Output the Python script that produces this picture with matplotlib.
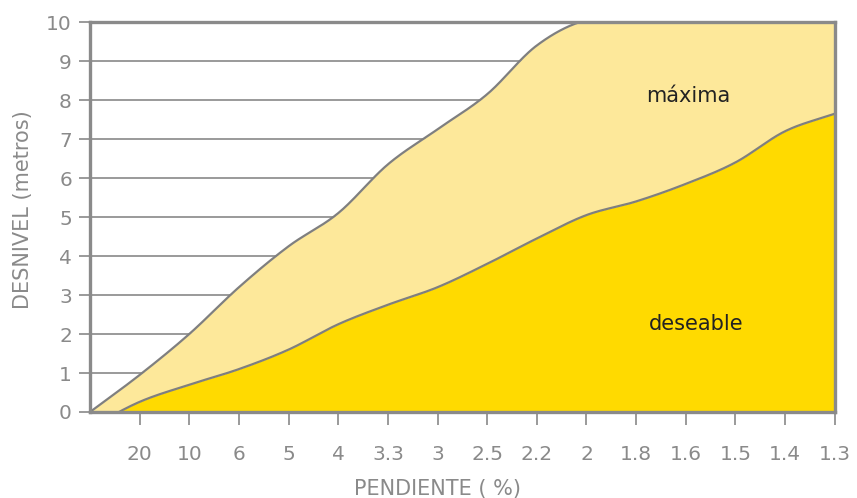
import numpy as np
import matplotlib
matplotlib.use("Agg")
import matplotlib.pyplot as plt

# ---- data ----
pendiente_labels = ["20", "10", "6", "5", "4", "3.3", "3", "2.5", "2.2", "2",
                    "1.8", "1.6", "1.5", "1.4", "1.3"]
# values at positions -1 (origin) .. 14
maxima = [0.0, 0.95, 2.0, 3.2, 4.25, 5.1, 6.35, 7.25, 8.15, 9.4, 10.05,
          10.05, 10.05, 10.05, 10.05, 10.05]
deseable = [-0.4, 0.26, 0.7, 1.1, 1.6, 2.25, 2.75, 3.2, 3.8, 4.45, 5.05,
            5.4, 5.85, 6.4, 7.2, 7.65]
y_ticks = [0, 1, 2, 3, 4, 5, 6, 7, 8, 9, 10]


def smooth(xs, ys, n=30):
    xs = np.asarray(xs, float)
    ys = np.asarray(ys, float)
    m = np.zeros_like(ys)
    m[1:-1] = (ys[2:] - ys[:-2]) / (xs[2:] - xs[:-2])
    m[0] = (ys[1] - ys[0]) / (xs[1] - xs[0])
    m[-1] = (ys[-1] - ys[-2]) / (xs[-1] - xs[-2])
    ox, oy = [], []
    for i in range(len(xs) - 1):
        h = xs[i + 1] - xs[i]
        t = np.linspace(0, 1, n, endpoint=False)
        h00 = 2 * t**3 - 3 * t**2 + 1
        h10 = t**3 - 2 * t**2 + t
        h01 = -2 * t**3 + 3 * t**2
        h11 = t**3 - t**2
        ox.append(xs[i] + t * h)
        oy.append(h00 * ys[i] + h10 * h * m[i] + h01 * ys[i + 1] + h11 * h * m[i + 1])
    ox.append([xs[-1]])
    oy.append([ys[-1]])
    return np.concatenate(ox), np.concatenate(oy)


plt.rcParams['font.family'] = ['DejaVu Sans']

fig = plt.figure(figsize=(8.57, 4.98), dpi=100)
ax = fig.add_axes([0.105, 0.1727, 0.869, 0.783])

pos = np.arange(-1, len(pendiente_labels))
sx, s_max = smooth(pos, maxima)
_, s_des = smooth(pos, deseable)

light = "#FDE89A"
dark = "#FFDA00"
linec = "#7f7f7f"

ax.fill_between(sx, s_des, s_max, color=light, lw=0, zorder=2)
ax.fill_between(sx, -1, s_des, color=dark, lw=0, zorder=2)
ax.plot(sx, s_max, color=linec, lw=1.6, zorder=3)
ax.plot(sx, s_des, color=linec, lw=1.6, zorder=3)

ax.set_xlim(-1, len(pendiente_labels) - 1)
ax.set_ylim(0, 10)

ax.set_yticks(y_ticks)
ax.set_yticklabels([str(v) for v in y_ticks])
ax.set_xticks(np.arange(len(pendiente_labels)))
ax.set_xticklabels(pendiente_labels)

ax.grid(axis='y', color="#9a9a9a", lw=1.4, zorder=1)
ax.set_axisbelow(True)

for s in ax.spines.values():
    s.set_color("#8a8a8a")
    s.set_linewidth(2.4)
    s.set_zorder(4)

fs = 14.5
ax.tick_params(axis='y', length=8, width=1.4, color="#9a9a9a", pad=5,
               labelsize=fs, labelcolor="#8a8a8a")
ax.tick_params(axis='x', length=9, width=1.4, color="#9a9a9a", pad=15,
               labelsize=fs, labelcolor="#8a8a8a")

ax.set_xlabel("PENDIENTE ( %)", fontsize=15, color="#8a8a8a")
ax.xaxis.set_label_coords(0.467, -0.172)
ax.set_ylabel("DESNIVEL (metros)", fontsize=15, color="#8a8a8a")
ax.yaxis.set_label_coords(-0.077, 0.52)

ax.text(11.05, 8.1, "máxima", fontsize=15, color="#222222", ha='center', va='center', zorder=5)
ax.text(11.2, 2.25, "deseable", fontsize=15, color="#222222", ha='center', va='center', zorder=5)

fig.savefig("out.png", dpi=100)
